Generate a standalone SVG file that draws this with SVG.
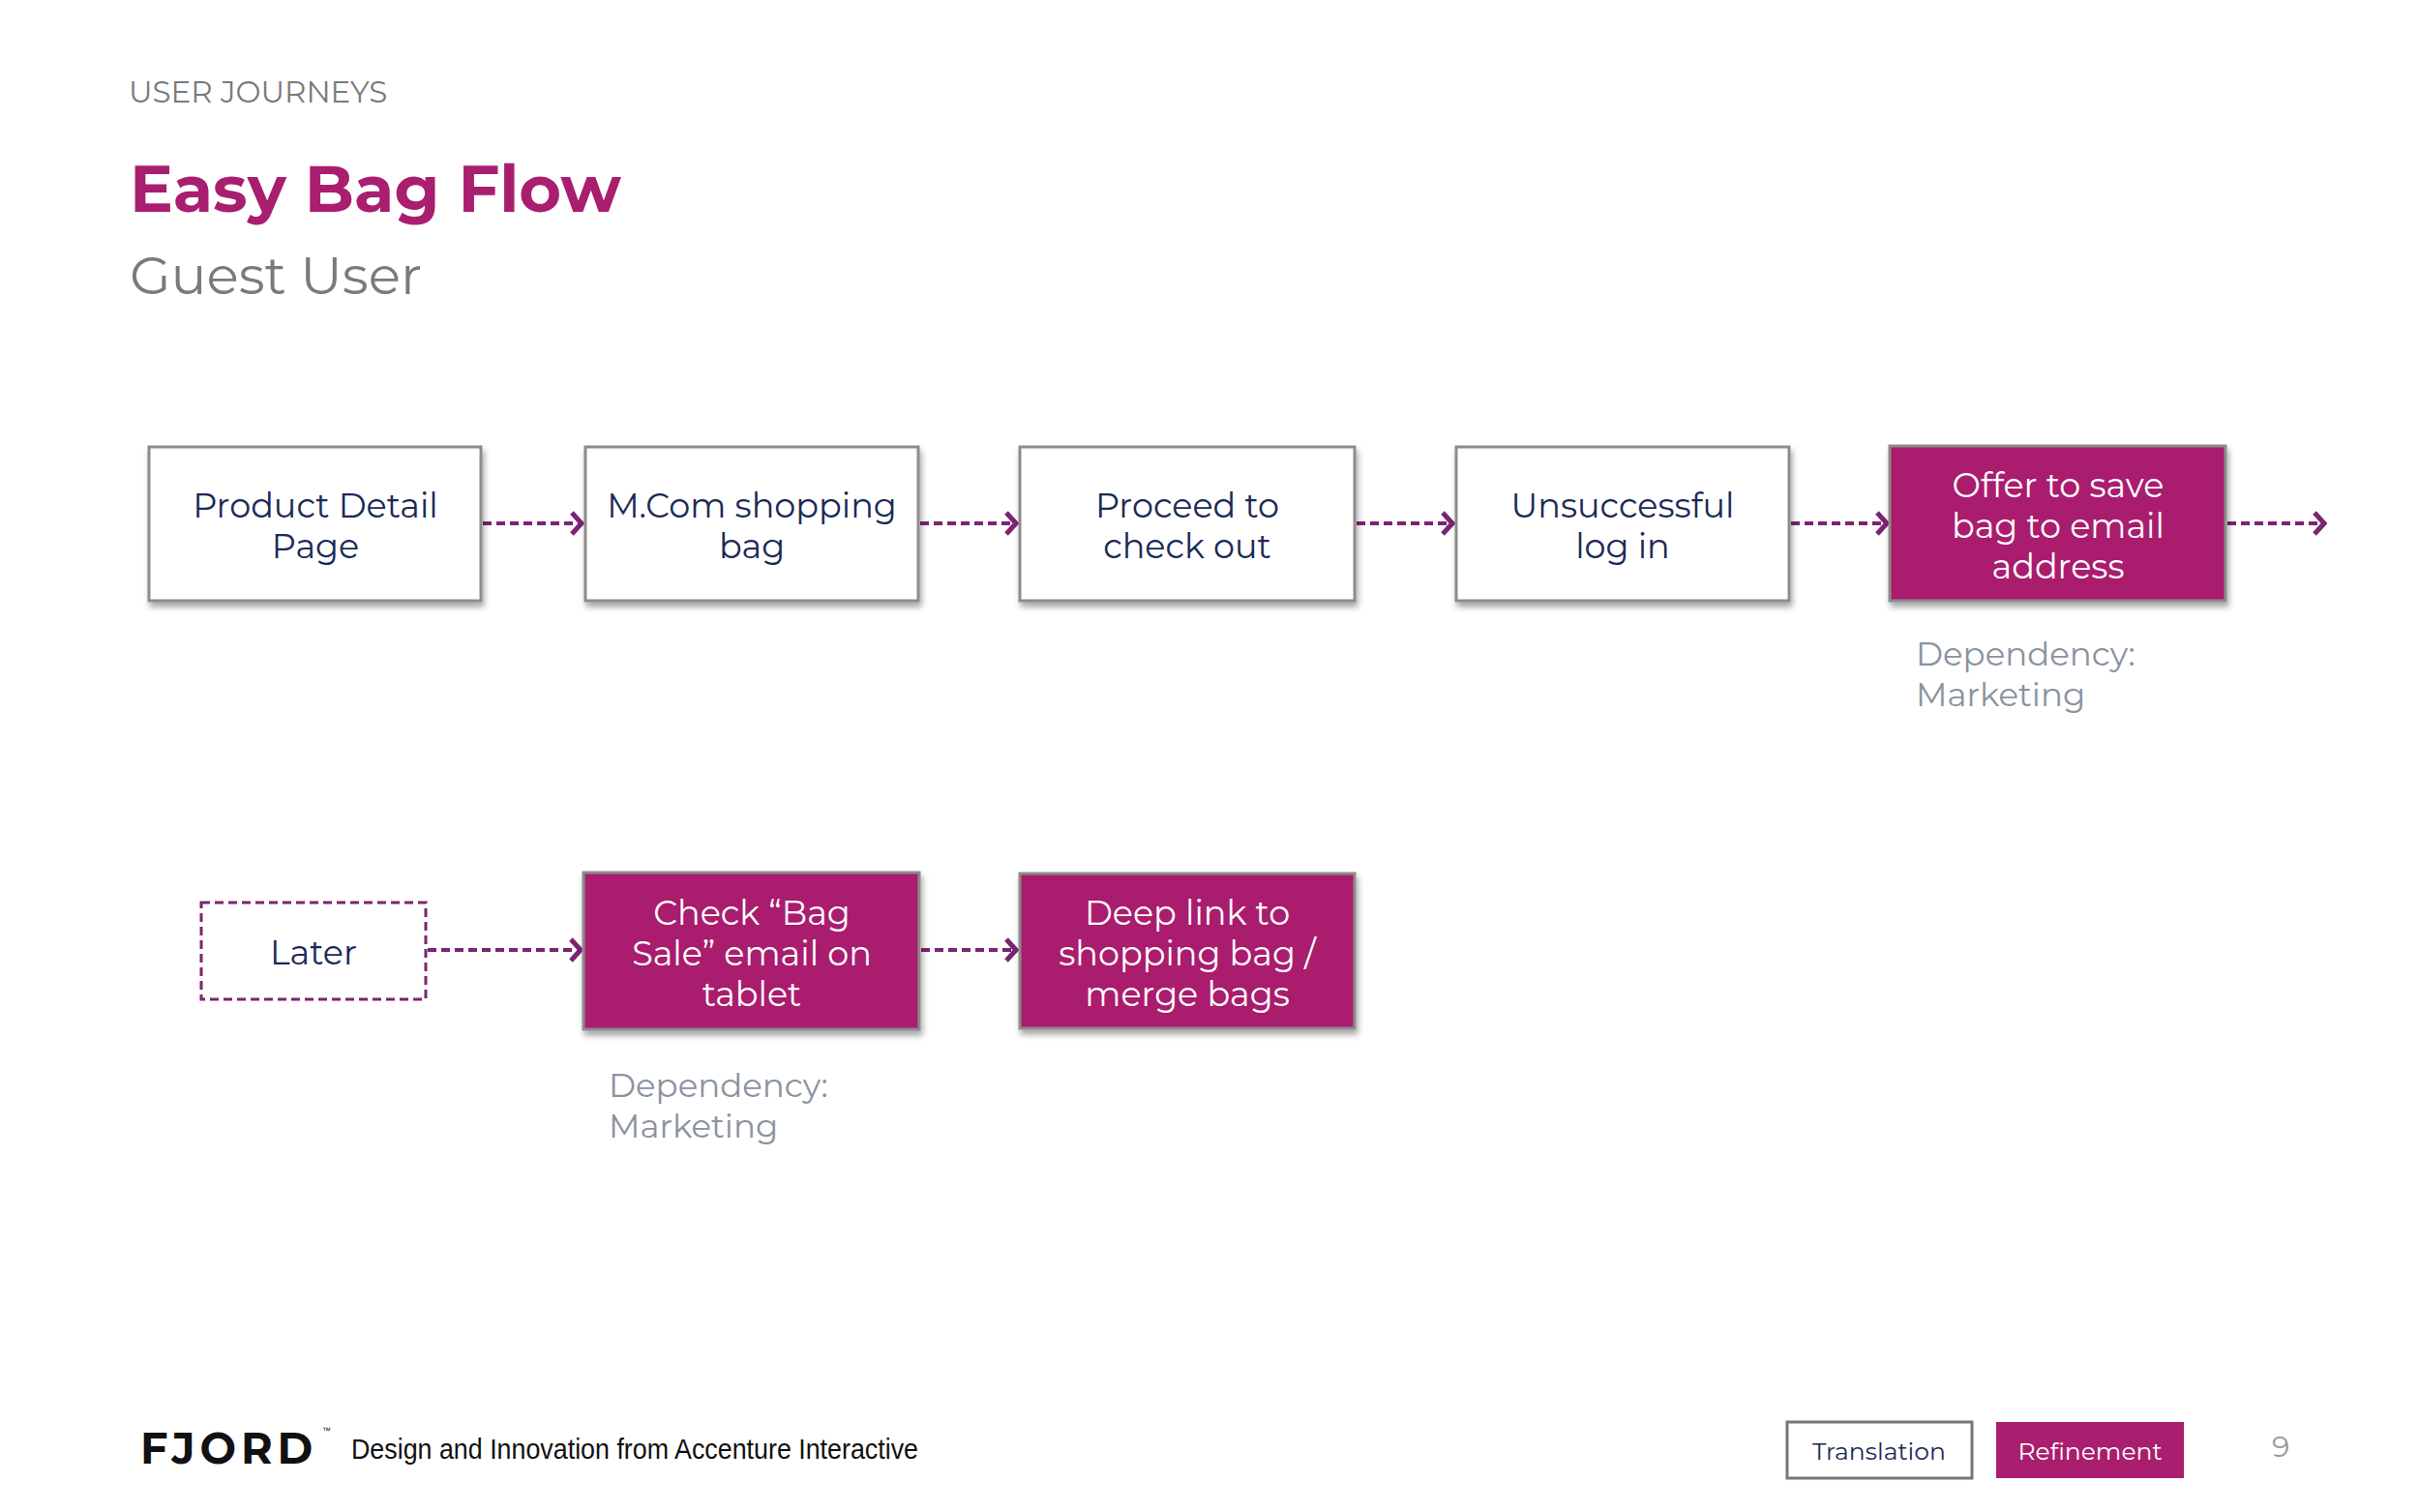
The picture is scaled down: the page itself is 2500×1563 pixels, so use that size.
<svg xmlns="http://www.w3.org/2000/svg" width="2500" height="1563" viewBox="0 0 2500 1563">
<style>
.t{font-family:"Montserrat","Noto Sans","Liberation Sans",sans-serif}
.box{fill:#fff;stroke:#8c8c8c;stroke-width:3}
.mag{fill:#a91e6e;stroke:#8c8c8c;stroke-width:3}
.lbl{font-size:35px;fill:#1b2a57;text-anchor:middle}
.wl{font-size:35px;fill:#fff;text-anchor:middle}
.dep{font-size:34px;fill:#8a93a0}
.con{stroke:#7b2471;stroke-width:4;stroke-dasharray:9 5;fill:none}
</style>
<defs>
<marker id="ah" viewBox="0 0 16 28" refX="13" refY="14" markerWidth="16" markerHeight="28" markerUnits="userSpaceOnUse" orient="auto"><path d="M3 3 L13 14 L3 25" fill="none" stroke="#7b2471" stroke-width="5"/></marker>
<filter id="sh" x="-5%" y="-5%" width="115%" height="120%"><feDropShadow dx="2" dy="5" stdDeviation="3" flood-color="#000" flood-opacity="0.35"/></filter>
</defs>
<rect width="2500" height="1563" fill="#fff"/>
<text class="t" x="133" y="106" font-size="31" fill="#7a7a7a">USER JOURNEYS</text>
<text class="t" x="134" y="219" font-size="67" font-weight="bold" fill="#a91e6e">Easy Bag Flow</text>
<text class="t" x="134" y="304" font-size="55" fill="#7a7a7a">Guest User</text>
<g id="connectors">
<line class="con" x1="499" y1="541" x2="601" y2="541" marker-end="url(#ah)"/>
<line class="con" x1="951" y1="541" x2="1050" y2="541" marker-end="url(#ah)"/>
<line class="con" x1="1402" y1="541" x2="1501" y2="541" marker-end="url(#ah)"/>
<line class="con" x1="1851" y1="541" x2="1950" y2="541" marker-end="url(#ah)"/>
<line class="con" x1="2302" y1="541" x2="2402" y2="541" marker-end="url(#ah)"/>
<line class="con" x1="442" y1="982" x2="600" y2="982" marker-end="url(#ah)"/>
<line class="con" x1="952" y1="982" x2="1050" y2="982" marker-end="url(#ah)"/>
</g>
<g id="n1"><rect class="box" filter="url(#sh)" x="154" y="462" width="343" height="159"/><text class="t lbl" x="326" y="535">Product Detail</text><text class="t lbl" x="326" y="577">Page</text></g>
<g id="n2"><rect class="box" filter="url(#sh)" x="605" y="462" width="344" height="159"/><text class="t lbl" x="777" y="535">M.Com shopping</text><text class="t lbl" x="777" y="577">bag</text></g>
<g id="n3"><rect class="box" filter="url(#sh)" x="1054" y="462" width="346" height="159"/><text class="t lbl" x="1227" y="535">Proceed to</text><text class="t lbl" x="1227" y="577">check out</text></g>
<g id="n4"><rect class="box" filter="url(#sh)" x="1505" y="462" width="344" height="159"/><text class="t lbl" x="1677" y="535">Unsuccessful</text><text class="t lbl" x="1677" y="577">log in</text></g>
<g id="n5"><rect class="mag" filter="url(#sh)" x="1953" y="461" width="347" height="160" stroke="none"/><text class="t wl" x="2127" y="514">Offer to save</text><text class="t wl" x="2127" y="556">bag to email</text><text class="t wl" x="2127" y="598">address</text></g>
<g id="d1"><text class="t dep" x="1980" y="688">Dependency:</text><text class="t dep" x="1980" y="730">Marketing</text></g>
<g id="n6"><rect x="208" y="933" width="232" height="100" fill="#fff" stroke="#7b2471" stroke-width="3" stroke-dasharray="9 5"/><text class="t lbl" x="324" y="997">Later</text></g>
<g id="n7"><rect class="mag" filter="url(#sh)" x="603" y="902" width="347" height="162" stroke="none"/><text class="t wl" x="777" y="956">Check “Bag</text><text class="t wl" x="777" y="998">Sale” email on</text><text class="t wl" x="777" y="1040">tablet</text></g>
<g id="n8"><rect class="mag" filter="url(#sh)" x="1054" y="903" width="346" height="160"/><text class="t wl" x="1227" y="956">Deep link to</text><text class="t wl" x="1227" y="998">shopping bag /</text><text class="t wl" x="1227" y="1040">merge bags</text></g>
<g id="d2"><text class="t dep" x="629" y="1134">Dependency:</text><text class="t dep" x="629" y="1176">Marketing</text></g>
<text class="t" x="145" y="1513" font-size="46" font-weight="bold" letter-spacing="5" fill="#111" textLength="183" lengthAdjust="spacingAndGlyphs">FJORD</text>
<text x="333" y="1482" font-size="9" font-family="Liberation Sans,sans-serif" fill="#111">™</text>
<text x="363" y="1508" font-size="30" font-family="Liberation Sans,sans-serif" fill="#111" textLength="586" lengthAdjust="spacingAndGlyphs">Design and Innovation from Accenture Interactive</text>
<rect x="1847" y="1470" width="191" height="58" fill="#fff" stroke="#777" stroke-width="3"/>
<text class="t" x="1942" y="1509" font-size="25" fill="#1b2a57" text-anchor="middle">Translation</text>
<rect x="2063" y="1470" width="194" height="58" fill="#a91e6e"/>
<text class="t" x="2160" y="1509" font-size="25" fill="#fff" text-anchor="middle">Refinement</text>
<text class="t" x="2348" y="1506" font-size="30" fill="#999">9</text>
</svg>
